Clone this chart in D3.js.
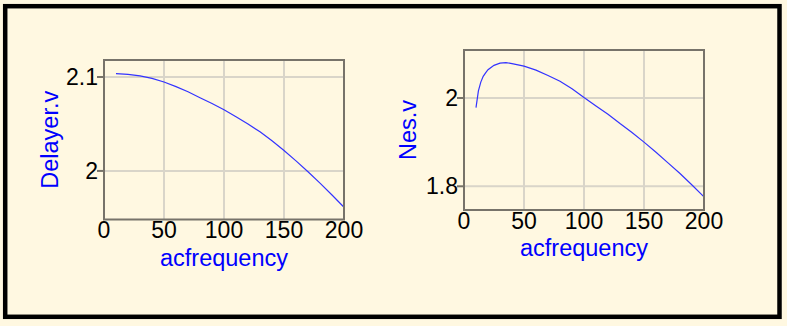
<!DOCTYPE html>
<html>
<head>
<meta charset="utf-8">
<script src="https://cdn.jsdelivr.net/npm/d3@7"></script>
<style>
  html, body { margin: 0; padding: 0; background: #fff8e1; }
  svg { display: block; }
  text { font-family: "Liberation Sans", Arial, sans-serif; }
</style>
</head>
<body>
<svg id="chart" width="787" height="326"></svg>
<script>
// Frequency sweep (acfrequency) and the two probed quantities
const delayerFreq = [10, 20, 30, 40, 50, 60, 70, 80, 90, 100, 110, 120, 130, 140, 150, 160, 170, 180, 190, 200];
const delayerV = [2.1036, 2.1028, 2.1012, 2.0985, 2.0947, 2.0897, 2.0843, 2.0780, 2.0718, 2.0652,
                  2.0578, 2.0500, 2.0416, 2.0322, 2.0218, 2.0107, 1.9991, 1.9870, 1.9744, 1.9613];

const nesFreq = [10, 12, 14, 16, 18, 20, 25, 30, 35, 40, 50, 60, 70, 80, 90, 100,
                 110, 120, 130, 140, 150, 160, 170, 180, 190, 200];
const nesV = [1.978, 2.016, 2.036, 2.049, 2.057, 2.064, 2.074, 2.079, 2.080, 2.078, 2.072, 2.063,
              2.051, 2.038, 2.021, 2.001, 1.982, 1.963, 1.942, 1.922, 1.900, 1.877, 1.853, 1.829, 1.803, 1.776];

const xTicks = [0, 50, 100, 150, 200];
const delayerTicks = [2, 2.1];
const nesTicks = [1.8, 2];
const xTitle = "acfrequency";

const svg = d3.select("#chart");

// outer panel frame
svg.append("rect")
  .attr("x", 5.2).attr("y", 6.2)
  .attr("width", 774.3).attr("height", 310.6)
  .attr("fill", "#fff8e1")
  .attr("stroke", "#000").attr("stroke-width", 4.5);

function drawPlot(cfg) {
  const x = d3.scaleLinear().domain([0, 200]).range([cfg.left, cfg.right]);
  const y = d3.scaleLinear().domain(cfg.yDomain).range([cfg.bottom, cfg.top]);
  const g = svg.append("g");

  // grid
  g.selectAll(".vgrid").data(xTicks.filter(d => d > 0 && d < 200)).join("line")
    .attr("x1", d => x(d)).attr("x2", d => x(d))
    .attr("y1", cfg.top).attr("y2", cfg.bottom)
    .attr("stroke", "#d9d5c9").attr("stroke-width", 2);
  g.selectAll(".hgrid").data(cfg.yTicks).join("line")
    .attr("x1", cfg.left).attr("x2", cfg.right)
    .attr("y1", d => y(d)).attr("y2", d => y(d))
    .attr("stroke", "#d9d5c9").attr("stroke-width", 2);

  // data curve
  const line = d3.line().x(d => x(d[0])).y(d => y(d[1]));
  g.append("path")
    .datum(cfg.xs.map((v, i) => [v, cfg.ys[i]]))
    .attr("d", line)
    .attr("fill", "none")
    .attr("stroke", "#3333ff").attr("stroke-width", 1.2);

  // frame
  g.append("rect")
    .attr("x", cfg.left).attr("y", cfg.top)
    .attr("width", cfg.right - cfg.left).attr("height", cfg.bottom - cfg.top)
    .attr("fill", "none").attr("stroke", "#77736a").attr("stroke-width", 2);

  // y ticks
  g.selectAll(".ytick").data(cfg.yTicks).join("line")
    .attr("x1", cfg.left - 7).attr("x2", cfg.left)
    .attr("y1", d => y(d)).attr("y2", d => y(d))
    .attr("stroke", "#77736a").attr("stroke-width", 2);
  g.selectAll(".ylab").data(cfg.yTicks).join("text")
    .attr("x", cfg.left - 6).attr("y", d => y(d) + 8)
    .attr("text-anchor", "end")
    .attr("font-size", 23).attr("fill", "#000")
    .text(d => d3.format("")(d));

  // x tick labels
  g.selectAll(".xlab").data(xTicks).join("text")
    .attr("x", d => x(d)).attr("y", cfg.bottom + 18.5)
    .attr("text-anchor", "middle")
    .attr("font-size", 23).attr("fill", "#000")
    .text(d => d);

  // axis titles
  g.append("text")
    .attr("x", (cfg.left + cfg.right) / 2).attr("y", cfg.bottom + 46)
    .attr("text-anchor", "middle")
    .attr("font-size", 23.5).attr("fill", "#0000ff")
    .text(xTitle);
  g.append("text")
    .attr("transform", `translate(${cfg.yTitleX},${(cfg.top + cfg.bottom) / 2}) rotate(-90)`)
    .attr("text-anchor", "middle")
    .attr("font-size", 23.5).attr("fill", "#0000ff")
    .text(cfg.yTitle);
}

drawPlot({
  left: 104, right: 344, top: 60, bottom: 219.5,
  yDomain: [1.9483, 2.1181], yTicks: delayerTicks,
  xs: delayerFreq, ys: delayerV,
  yTitle: "Delayer.v", yTitleX: 57.5
});

drawPlot({
  left: 464, right: 704, top: 50, bottom: 210,
  yDomain: [1.7463, 2.1087], yTicks: nesTicks,
  xs: nesFreq, ys: nesV,
  yTitle: "Nes.v", yTitleX: 416
});
</script>
</body>
</html>
